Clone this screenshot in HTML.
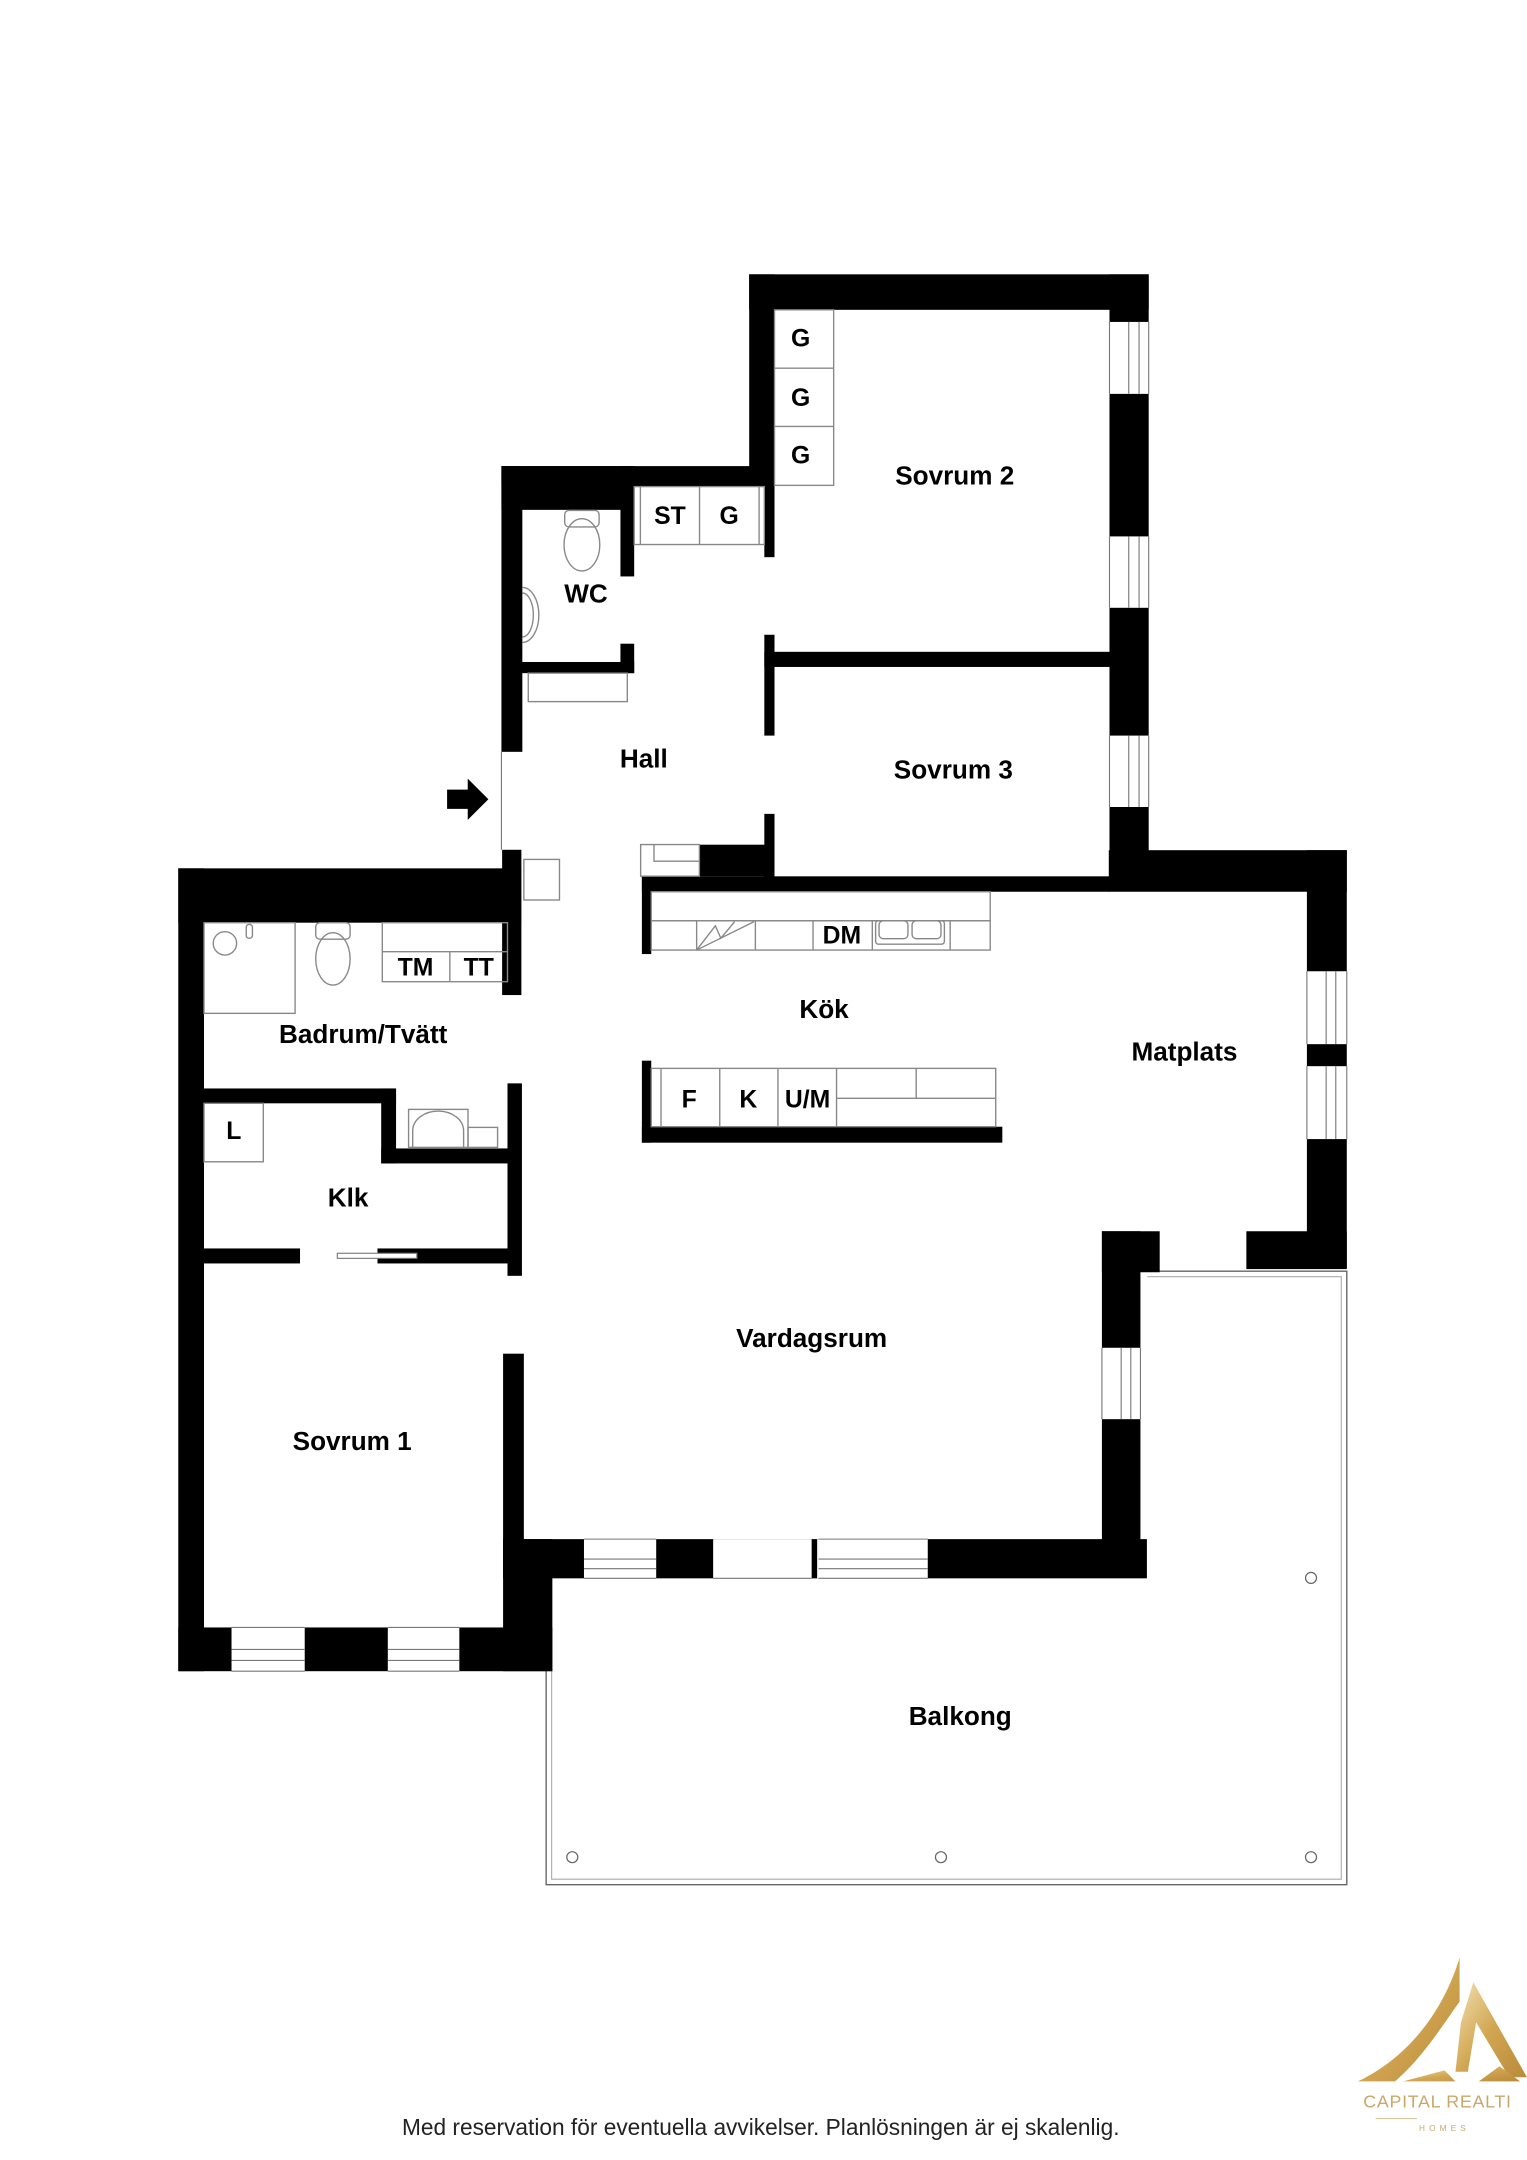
<!DOCTYPE html>
<html><head><meta charset="utf-8"><style>
html,body{margin:0;padding:0;background:#fff;}
svg{display:block;}
text{font-family:"Liberation Sans",sans-serif;}
.l{font-weight:bold;font-size:19px;text-anchor:middle;fill:#000;}
.s{font-weight:bold;font-size:18px;text-anchor:middle;fill:#000;}
.t{fill:none;stroke:#888;stroke-width:1;}
.w{fill:#fff;stroke:#777;stroke-width:0.8;}
</style></head><body>
<svg width="1527" height="2160" viewBox="0 0 1110 1570.1" xmlns="http://www.w3.org/2000/svg">
<rect width="1110" height="1570.1" fill="#fff"/>
<path d="M830 924 H979 V1370 H397 V1147" fill="none" stroke="#666" stroke-width="1"/>
<path d="M834 928 H975 V1366 H401 V1147" fill="none" stroke="#aaa" stroke-width="0.8"/>
<g fill="none" stroke="#666" stroke-width="0.9">
<circle cx="953" cy="1147" r="4"/><circle cx="416" cy="1350" r="4"/><circle cx="684" cy="1350" r="4"/><circle cx="953" cy="1350" r="4"/>
</g>
<g fill="#000">
<rect x="544.6" y="199.4" width="290.4" height="25.8"/>
<rect x="544.6" y="199.4" width="18.4" height="154"/>
<rect x="555.6" y="340" width="7.4" height="65"/>
<rect x="364.5" y="338.8" width="198.5" height="15"/>
<rect x="364.5" y="338.8" width="96.5" height="31.8"/>
<rect x="451" y="338.8" width="10" height="80.2"/>
<rect x="364.5" y="338.8" width="15.2" height="207.7"/>
<rect x="379" y="481.2" width="82" height="8.1"/>
<rect x="451" y="467.9" width="10" height="21.4"/>
<rect x="806.5" y="199.4" width="28.5" height="448"/>
<rect x="555.6" y="461.4" width="7.4" height="73.3"/>
<rect x="555.6" y="473.8" width="252" height="11"/>
<rect x="555.6" y="591.6" width="7.4" height="46"/>
<rect x="508.4" y="614" width="54" height="23"/>
<rect x="466.6" y="637" width="340" height="11.2"/>
<rect x="806" y="618" width="173" height="30.2"/>
<rect x="950" y="618" width="29" height="304"/>
<rect x="906" y="895" width="73" height="27.5"/>
<rect x="801" y="895" width="42" height="29.8"/>
<rect x="801" y="895" width="28" height="252"/>
<rect x="365.7" y="1118.8" width="468" height="28.5"/>
<rect x="365.7" y="1118.8" width="35.8" height="96"/>
<rect x="466.6" y="637" width="6.8" height="56.5"/>
<rect x="466.6" y="771" width="6.8" height="59.6"/>
<rect x="466.6" y="819" width="262" height="11.6"/>
<rect x="365" y="617.7" width="14" height="105.6"/>
<rect x="129.6" y="631.2" width="249.2" height="39.5"/>
<rect x="129.6" y="631.2" width="18.7" height="583.6"/>
<rect x="148.3" y="791.2" width="139.6" height="10.8"/>
<rect x="277.1" y="791.2" width="10.8" height="54.5"/>
<rect x="277.1" y="834.8" width="101.7" height="10.9"/>
<rect x="368.9" y="787.5" width="10.5" height="139.9"/>
<rect x="148.3" y="907.5" width="69.8" height="10.9"/>
<rect x="274.4" y="907.5" width="95" height="10.9"/>
<rect x="365.7" y="984" width="15.1" height="160"/>
<rect x="129.6" y="1183" width="271.9" height="31.8"/>
<path d="M325 574 H340 V566 L355 581 L340 596 V588 H325 Z"/>
</g>
<g>
<rect x="806.5" y="234" width="28.5" height="52.3" fill="#fff"/>
<rect x="806.5" y="389.9" width="28.5" height="51.9" fill="#fff"/>
<rect x="806.5" y="534.7" width="28.5" height="51.9" fill="#fff"/>
<rect x="950" y="706" width="29" height="53" fill="#fff"/>
<rect x="950" y="775" width="29" height="53" fill="#fff"/>
<rect x="801" y="979.7" width="28" height="51.9" fill="#fff"/>
<rect x="424.5" y="1118.8" width="52.5" height="28.5" fill="#fff"/>
<rect x="518.4" y="1118.8" width="76.6" height="28.5" fill="#fff"/>
<rect x="590" y="1118.8" width="4" height="28.5" fill="#000"/>
<rect x="595" y="1118.8" width="79.4" height="28.5" fill="#fff"/>
<rect x="168.3" y="1183" width="53.2" height="31.8" fill="#fff"/>
<rect x="281.9" y="1183" width="52" height="31.8" fill="#fff"/>
</g>
<g stroke="#777" stroke-width="0.8" fill="none">
<path d="M806.5 234V286.3M820.5 234V286.3M828 234V286.3M835 234V286.3"/>
<path d="M806.5 389.9V441.8M820.5 389.9V441.8M828 389.9V441.8M835 389.9V441.8"/>
<path d="M806.5 534.7V586.6M820.5 534.7V586.6M828 534.7V586.6M835 534.7V586.6"/>
<path d="M950 706V759M964 706V759M971 706V759M979 706V759"/>
<path d="M950 775V828M964 775V828M971 775V828M979 775V828"/>
<path d="M801 979.7V1031.6M815 979.7V1031.6M822 979.7V1031.6M829 979.7V1031.6"/>
<path d="M424.5 1118.8H477M424.5 1133.3H477M424.5 1140.3H477M424.5 1147.3H477"/>
<path d="M595 1118.8H674.4M595 1133.3H674.4M595 1140.3H674.4M595 1147.3H674.4"/>
<path d="M518.4 1147.3H590"/>
<path d="M168.3 1183H221.5M168.3 1199H221.5M168.3 1207H221.5M168.3 1214.8H221.5"/>
<path d="M281.9 1183H333.9M281.9 1199H333.9M281.9 1207H333.9M281.9 1214.8H333.9"/>
<path d="M364.5 546.5V617.7"/>
</g>
<g class="t">
<rect x="563" y="225.2" width="43" height="127.6"/>
<path d="M563 267.6H606M563 310H606"/>
<rect x="461" y="353.7" width="94.6" height="42.1"/>
<path d="M465.5 353.7V395.8M508.5 353.7V395.8M551.8 353.7V395.8"/>
<rect x="384" y="489.3" width="72" height="20.7"/>
<rect x="465.7" y="613.9" width="42.7" height="23"/>
<path d="M475.4 613.9V626H508.4"/>
<rect x="380.8" y="624.7" width="25.9" height="29.5"/>
<rect x="473.4" y="648.2" width="246.4" height="21.1"/>
<rect x="473.4" y="669.3" width="246.4" height="21.3"/>
<path d="M506.4 669.3V690.6M549.1 669.3V690.6M591 669.3V690.6M634.1 669.3V690.6M690.7 669.3V690.6"/>
<path d="M506.4 690.6L520 673L524 682L534 670M506.4 690.6L548 670"/>
<rect x="636.5" y="669.3" width="50" height="17" rx="2"/>
<rect x="639" y="669.3" width="21" height="13" rx="3"/><rect x="663" y="669.3" width="21" height="13" rx="3"/>
<rect x="473.4" y="776.6" width="250.4" height="42.4"/>
<path d="M480.5 776.6V819M523.2 776.6V819M565.5 776.6V819M608.1 776.6V819M666 776.6V798.4M608.1 798.4H723.8"/>
<rect x="148.3" y="670.7" width="66.2" height="65.9"/>
<circle cx="163.5" cy="685.7" r="8.5"/>
<rect x="179" y="672" width="4.5" height="10" rx="2"/>
<rect x="229.5" y="670.7" width="25" height="12" rx="3"/>
<ellipse cx="242" cy="697" rx="12.5" ry="19"/>
<rect x="277.9" y="670.7" width="91" height="42.9"/>
<path d="M277.9 691.8H368.9M327 691.8V713.6"/>
<rect x="148.3" y="802" width="43.1" height="42.5"/>
<rect x="297" y="806.4" width="43.2" height="27.6"/>
<path d="M300 834V822a18 14 0 0 1 37 0V834"/>
<rect x="340.2" y="819.5" width="21.5" height="14.5"/>
<rect x="410.5" y="371" width="25" height="12" rx="3"/>
<ellipse cx="423" cy="396" rx="13" ry="19"/>
<path d="M379.7 427a12 20 0 0 1 0 40"/>
<path d="M379.7 431a8 16 0 0 1 0 32"/>
</g>
<rect x="245.2" y="911" width="57.8" height="3.7" fill="#fff" stroke="#777" stroke-width="0.8"/>
<text class="s" x="582" y="252">G</text>
<text class="s" x="582" y="295">G</text>
<text class="s" x="582" y="337">G</text>
<text class="s" x="487" y="381">ST</text>
<text class="s" x="530" y="381">G</text>
<text class="l" x="694" y="352">Sovrum 2</text>
<text class="l" x="693" y="566">Sovrum 3</text>
<text class="l" x="468" y="558">Hall</text>
<text class="l" x="426" y="438">WC</text>
<text class="s" x="612" y="686">DM</text>
<text class="l" x="599" y="740">Kök</text>
<text class="l" x="861" y="771">Matplats</text>
<text class="s" x="302" y="709">TM</text>
<text class="s" x="348" y="709">TT</text>
<text class="l" x="264" y="758">Badrum/Tvätt</text>
<text class="s" x="170" y="828">L</text>
<text class="l" x="253" y="877">Klk</text>
<text class="s" x="501" y="805">F</text>
<text class="s" x="544" y="805">K</text>
<text class="s" x="587" y="805">U/M</text>
<text class="l" x="590" y="979">Vardagsrum</text>
<text class="l" x="256" y="1054">Sovrum 1</text>
<text class="l" x="698" y="1254">Balkong</text>
<text x="553" y="1552" font-size="16.5" text-anchor="middle" fill="#222">Med reservation för eventuella avvikelser. Planlösningen är ej skalenlig.</text>
<defs><linearGradient id="g" x1="0" y1="0" x2="1" y2="1"><stop offset="0" stop-color="#f3e2b5"/><stop offset="0.5" stop-color="#d1a651"/><stop offset="1" stop-color="#b98a3a"/></linearGradient></defs>
<path d="M1061 1423 C1050 1460 1025 1495 987 1513 L1014 1513 C1035 1495 1050 1470 1061 1455 Z" fill="url(#g)"/>
<path d="M1071 1441 L1110 1510 L1097 1510 L1073 1470 L1067 1506 L1058 1506 L1062 1470 Z" fill="url(#g)"/>
<path d="M1020 1513 L1050 1505 L1058 1513 Z M1075 1513 L1090 1502 L1105 1513 Z" fill="url(#g)"/>
<text x="991" y="1532" font-family="Liberation Serif,serif" font-size="13" fill="#c9a86a" letter-spacing="0.5">CAPITAL REALTI</text>
<path d="M1000 1540 H1030" stroke="#d8c7a0" stroke-width="0.8"/>
<text x="1050" y="1549" font-family="Liberation Sans,sans-serif" font-size="6" fill="#c9a86a" text-anchor="middle" letter-spacing="3">HOMES</text>
</svg>
</body></html>
